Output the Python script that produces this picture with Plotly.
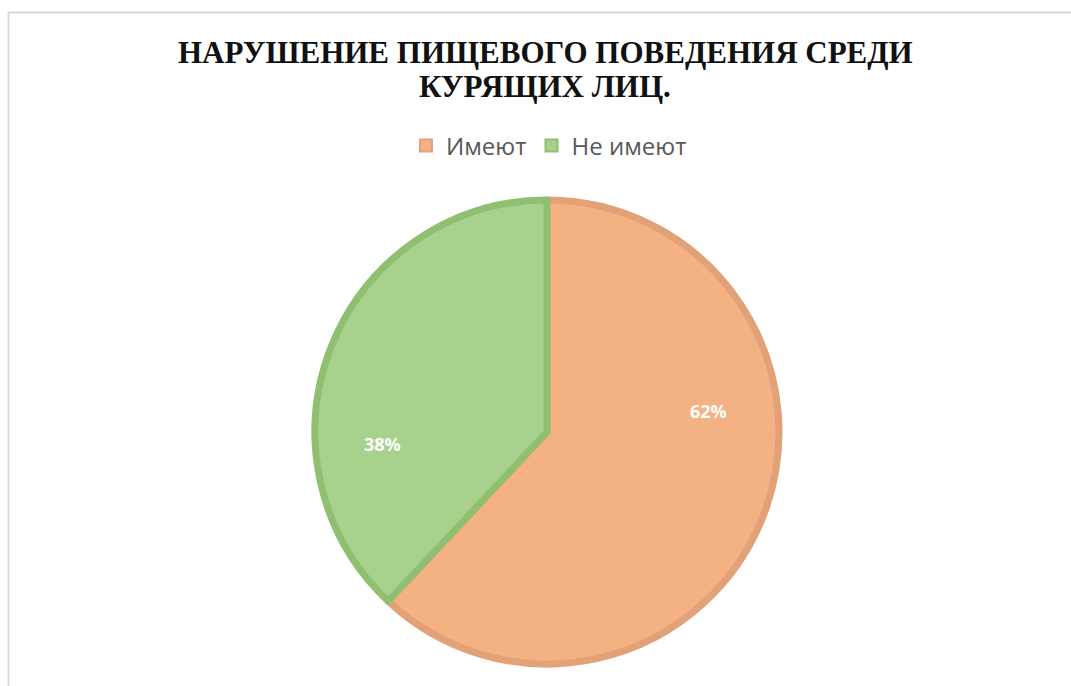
import plotly.graph_objects as go

labels = ["Имеют", "Не имеют"]
values = [62, 38]
fill_colors = ["#F4B183", "#A9D18E"]
edge_colors = ["#E2A176", "#90BF72"]
title_lines = ["НАРУШЕНИЕ ПИЩЕВОГО ПОВЕДЕНИЯ СРЕДИ", "КУРЯЩИХ ЛИЦ."]

W, H = 1071, 686
total = sum(values)
pct_text = [f"{round(v / total * 100)}%" for v in values]

fig = go.Figure(go.Pie(
    labels=labels,
    values=values,
    sort=False,
    direction="clockwise",
    rotation=0,
    textinfo="none",
    hoverinfo="label+percent",
    marker=dict(colors=fill_colors, line=dict(color=edge_colors, width=7)),
    domain=dict(x=[315 / W, 779 / W], y=[(H - 664) / H, (H - 200) / H]),
))

# percentage labels (placed like the original)
label_pos = [(729, 411), (382, 444)]
for txt, (px, py) in zip(pct_text, label_pos):
    fig.add_annotation(x=px / W, y=1 - py / H, xref="paper", yref="paper",
                       text=f"<b>{txt}</b>", showarrow=False,
                       font=dict(family="Open Sans", size=18, color="white"))

# title, two lines
for line, cy in zip(title_lines, (52, 86)):
    fig.add_annotation(x=545 / W, y=1 - cy / H, xref="paper", yref="paper",
                       xanchor="center", yanchor="middle",
                       text=f"<b>{line}</b>", showarrow=False,
                       font=dict(family="Liberation Serif", size=31, color="#111111"))

fig.add_shape(type="rect", xref="paper", yref="paper",
              x0=8.5 / W, x1=1.05, y0=-0.05, y1=1 - 12.5 / H,
              line=dict(color="#D9D9D9", width=2), fillcolor="rgba(0,0,0,0)")

fig.update_layout(
    width=W, height=H,
    margin=dict(l=0, r=0, t=0, b=0),
    paper_bgcolor="white",
    showlegend=True,
    legend=dict(orientation="h", x=549 / W, xanchor="center", y=1 - 146 / H, yanchor="middle",
                font=dict(family="Open Sans", size=24, color="#595959"),
                itemsizing="constant", itemwidth=30),
)

fig.write_html("out.html")
